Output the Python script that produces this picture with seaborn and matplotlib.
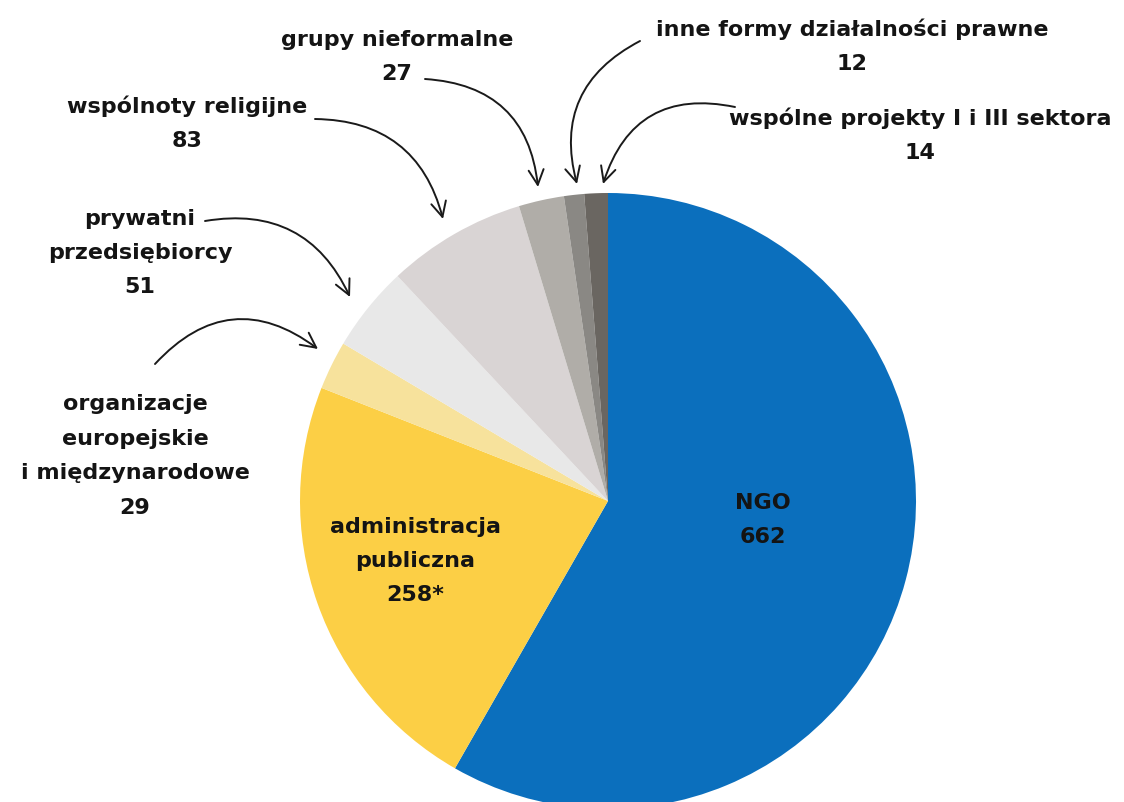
import numpy as np
import matplotlib
matplotlib.use('Agg')
import matplotlib.pyplot as plt
import seaborn as sns

# data
labels = ['NGO', 'administracja\npubliczna', 'organizacje\neuropejskie\ni międzynarodowe',
          'prywatni\nprzedsiębiorcy', 'wspólnoty religijne', 'grupy nieformalne',
          'inne formy działalności prawne', 'wspólne projekty I i III sektora']
counts = [662, 258, 29, 51, 83, 27, 12, 14]
count_text = ['662', '258*', '29', '51', '83', '27', '12', '14']
colors = ['#0b6fbd', '#fccf45', '#f7e29c', '#e8e8e8', '#d9d4d4', '#b0ada8', '#8a8884', '#6a6661']

sns.set_theme(style='white')
plt.rcParams['font.family'] = ['DejaVu Sans']

W, H = 1124, 803
fig = plt.figure(figsize=(W / 100, H / 100), dpi=100)
ax = fig.add_axes([0, 0, 1, 1])
ax.set_xlim(0, W)
ax.set_ylim(0, H)
ax.set_aspect('equal')
ax.axis('off')

def py(y):  # pixel row -> data y
    return H - y

cx, cy, r = 608, py(502), 308
ax.pie(counts, colors=colors, startangle=90, counterclock=False,
       center=(cx, cy), radius=r, wedgeprops=dict(linewidth=0))
ax.set_xlim(0, W)
ax.set_ylim(0, H)

fs = 16
txt = dict(ha='center', va='center', fontsize=fs, fontweight='bold',
           color='#141414', linespacing=1.9)

# labels inside the pie
ax.text(763, py(520), labels[0] + '\n' + count_text[0], **txt)
ax.text(415, py(561), labels[1] + '\n' + count_text[1], **txt)

# labels outside, with arrows
outside = [
    (2, 135, 456),
    (3, 140, 253),
    (4, 187, 123),
    (5, 397, 57),
    (6, 852, 46),
    (7, 920, 135),
]
for i, x, y in outside:
    ax.text(x, py(y), labels[i] + '\n' + count_text[i], **txt)

arrows = [
    ((155, 365), (318, 350), -0.45),
    ((205, 222), (350, 298), -0.38),
    ((315, 120), (443, 220), -0.38),
    ((425, 80), (538, 188), -0.42),
    ((640, 42), (577, 185), 0.40),
    ((735, 108), (603, 185), 0.45),
]
for (x0, y0), (x1, y1), rad in arrows:
    ax.annotate('', xy=(x1, py(y1)), xytext=(x0, py(y0)),
                arrowprops=dict(arrowstyle='->,head_length=0.9,head_width=0.45',
                                connectionstyle=f'arc3,rad={rad}',
                                color='#1a1a1a', lw=1.4, shrinkA=0, shrinkB=0))

fig.savefig('out.png', dpi=100)
